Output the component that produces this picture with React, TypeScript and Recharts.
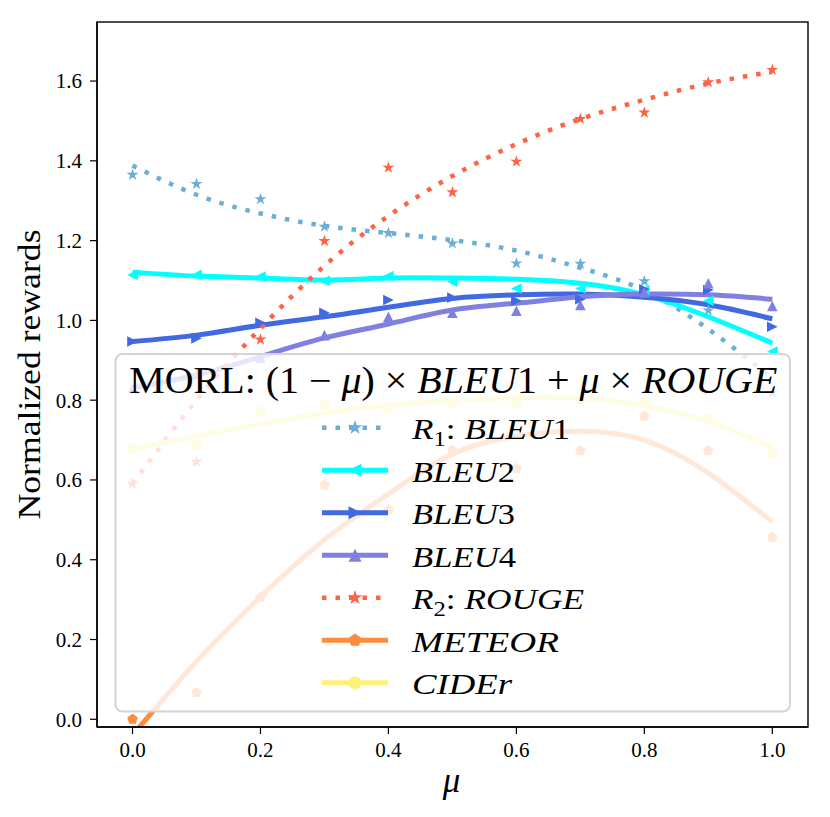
import React from "react";
import { ComposedChart, Line, XAxis, YAxis } from "recharts";

// values
const mu = [0, 0.1, 0.2, 0.3, 0.4, 0.5, 0.6, 0.7, 0.8, 0.9, 1.0];
const xTicks = [0, 0.2, 0.4, 0.6, 0.8, 1.0];
const yTicks = [0, 0.2, 0.4, 0.6, 0.8, 1.0, 1.2, 1.4, 1.6];

const bleu1Raw = [1.365, 1.342, 1.304, 1.235, 1.219, 1.193, 1.143, 1.142, 1.098, 1.025, 0.818];
const bleu1Fit = [1.388, 1.315, 1.268, 1.237, 1.219, 1.201, 1.175, 1.132, 1.075, 0.978, 0.855];
const bleu2Raw = [1.114, 1.114, 1.11, 1.099, 1.111, 1.097, 1.08, 1.08, 1.076, 1.049, 0.922];
const bleu2Fit = [1.121, 1.111, 1.106, 1.101, 1.106, 1.106, 1.103, 1.093, 1.064, 1.009, 0.943];
const bleu3Raw = [0.947, 0.955, 0.994, 1.019, 1.051, 1.057, 1.049, 1.053, 1.078, 1.076, 0.984];
const bleu3Fit = [0.947, 0.963, 0.988, 1.009, 1.033, 1.055, 1.064, 1.066, 1.058, 1.039, 1.004];
const bleu4Raw = [0.83, 0.865, 0.906, 0.963, 1.009, 1.019, 1.024, 1.039, 1.07, 1.093, 1.036];
const bleu4Fit = [0.831, 0.863, 0.909, 0.956, 0.991, 1.026, 1.043, 1.059, 1.066, 1.064, 1.053];
const rougeRaw = [0.59, 0.646, 0.952, 1.199, 1.383, 1.321, 1.398, 1.505, 1.521, 1.597, 1.628];
const rougeFit = [0.59, 0.8, 0.98, 1.137, 1.262, 1.362, 1.442, 1.505, 1.553, 1.594, 1.623];
const meteorRaw = [0.0, 0.067, 0.306, 0.587, 0.525, 0.675, 0.629, 0.673, 0.76, 0.673, 0.456];
const meteorFit = [-0.04, 0.145, 0.307, 0.45, 0.565, 0.665, 0.71, 0.722, 0.7, 0.617, 0.495];
const ciderRaw = [0.678, 0.688, 0.771, 0.788, 0.78, 0.792, 0.792, 0.8, 0.796, 0.755, 0.667];
const ciderFit = [0.678, 0.71, 0.74, 0.768, 0.787, 0.8, 0.806, 0.805, 0.786, 0.747, 0.682];

const FONT = '"Liberation Serif", "DejaVu Serif", serif';

type Shape = "star" | "tleft" | "tright" | "tup" | "pent" | "circle";

const series = [
  { key: "bleu1", color: "#6baed6", shape: "star" as Shape, dotted: true, raw: bleu1Raw, fit: bleu1Fit,
    label: [["R", "i"], ["1", "sub"], [": ", "n"], ["BLEU", "i"], ["1", "n"]], width: 158 },
  { key: "bleu2", color: "#00ffff", shape: "tleft" as Shape, dotted: false, raw: bleu2Raw, fit: bleu2Fit,
    label: [["BLEU", "i"], ["2", "n"]], width: 103 },
  { key: "bleu3", color: "#4169e1", shape: "tright" as Shape, dotted: false, raw: bleu3Raw, fit: bleu3Fit,
    label: [["BLEU", "i"], ["3", "n"]], width: 103 },
  { key: "bleu4", color: "#8080e0", shape: "tup" as Shape, dotted: false, raw: bleu4Raw, fit: bleu4Fit,
    label: [["BLEU", "i"], ["4", "n"]], width: 104 },
  { key: "rouge", color: "#ff6347", shape: "star" as Shape, dotted: true, raw: rougeRaw, fit: rougeFit,
    label: [["R", "i"], ["2", "sub"], [": ", "n"], ["ROUGE", "i"]], width: 172 },
  { key: "meteor", color: "#fd8d3c", shape: "pent" as Shape, dotted: false, raw: meteorRaw, fit: meteorFit,
    label: [["METEOR", "i"]], width: 147 },
  { key: "cider", color: "#fff07a", shape: "circle" as Shape, dotted: false, raw: ciderRaw, fit: ciderFit,
    label: [["CIDEr", "i"]], width: 100 },
];

const rows = mu.map((m, i) => {
  const row: any = { mu: m };
  series.forEach((s) => {
    row[s.key] = s.raw[i];
    row[s.key + "Fit"] = s.fit[i];
  });
  return row;
});

function starPoints(cx: number, cy: number, r: number) {
  const pts: string[] = [];
  for (let k = 0; k < 10; k++) {
    const rad = k % 2 === 0 ? r : r * 0.382;
    const a = -Math.PI / 2 + (k * Math.PI) / 5;
    pts.push(`${cx + rad * Math.cos(a)},${cy + rad * Math.sin(a)}`);
  }
  return pts.join(" ");
}

function Marker({ shape, cx, cy, r, color }: { shape: Shape; cx: number; cy: number; r: number; color: string }) {
  if (cx == null || cy == null) return null;
  switch (shape) {
    case "star":
      return <polygon points={starPoints(cx, cy, r * 1.2)} fill={color} />;
    case "tleft":
      return <polygon points={`${cx - r},${cy} ${cx + r},${cy - r} ${cx + r},${cy + r}`} fill={color} />;
    case "tright":
      return <polygon points={`${cx + r},${cy} ${cx - r},${cy - r} ${cx - r},${cy + r}`} fill={color} />;
    case "tup":
      return <polygon points={`${cx},${cy - r} ${cx - r},${cy + r} ${cx + r},${cy + r}`} fill={color} />;
    case "pent": {
      const pts: string[] = [];
      for (let k = 0; k < 5; k++) {
        const a = -Math.PI / 2 + (k * 2 * Math.PI) / 5;
        pts.push(`${cx + r * 1.05 * Math.cos(a)},${cy + r * 1.05 * Math.sin(a)}`);
      }
      return <polygon points={pts.join(" ")} fill={color} />;
    }
    default:
      return <circle cx={cx} cy={cy} r={r} fill={color} />;
  }
}

function MathText({ parts, x, y, size, width }: { parts: string[][]; x: number; y: number; size: number; width: number }) {
  const out: React.ReactNode[] = [];
  let shifted = false;
  parts.forEach(([t, kind], i) => {
    if (kind === "sub") {
      out.push(
        <tspan key={i} dy={size * 0.22} fontSize={size * 0.7} fontStyle="normal">
          {t}
        </tspan>
      );
      shifted = true;
    } else {
      out.push(
        <tspan key={i} dy={shifted ? -size * 0.22 : 0} fontStyle={kind === "i" ? "italic" : "normal"}>
          {t}
        </tspan>
      );
      shifted = false;
    }
  });
  return (
    <text x={x} y={y} fontSize={size} fontFamily={FONT} fill="#000" textLength={width} lengthAdjust="spacingAndGlyphs">
      {out}
    </text>
  );
}

const titleParts = [
  ["MORL: (1 \u2212 ", "n"],
  ["\u03bc", "i"],
  [") \u00d7 ", "n"],
  ["BLEU", "i"],
  ["1 + ", "n"],
  ["\u03bc", "i"],
  [" \u00d7 ", "n"],
  ["ROUGE", "i"],
];

// plot frame (all four spines) and the semi-transparent legend on top of the chart
function Overlay() {
  const rowY0 = 427.7;
  const step = 42.5;
  return (
    <svg width={830} height={817} style={{ position: "absolute", left: 0, top: 0, pointerEvents: "none" }}>
      <rect x={97} y={22} width={711} height={705} fill="none" stroke="#000" strokeWidth={1.4} />
      <rect x={115.5} y={354} width={674.5} height={357.5} rx={7} fill="#ffffff" fillOpacity={0.8} stroke="#d4d4d4" strokeWidth={2} />
      <MathText parts={titleParts} x={129.3} y={393.3} size={37} width={648} />
      {series.map((s, i) => {
        const cy = rowY0 + i * step;
        return (
          <g key={s.key}>
            <line
              x1={322}
              x2={388}
              y1={cy}
              y2={cy}
              stroke={s.color}
              strokeWidth={s.dotted ? 4.5 : 5}
              strokeDasharray={s.dotted ? "4.5 9" : undefined}
            />
            <Marker shape={s.shape} cx={355} cy={cy} r={6.5} color={s.color} />
            <MathText parts={s.label} x={412} y={cy + 11.7} size={30} width={s.width} />
          </g>
        );
      })}
    </svg>
  );
}

const yLabel = (props: any) => {
  const vb = props.viewBox;
  const cy = vb.y + vb.height / 2;
  return (
    <text
      x={40}
      y={cy}
      transform={`rotate(-90, 40, ${cy})`}
      textAnchor="middle"
      fontSize={32}
      fontFamily={FONT}
      fill="#000"
      textLength={290}
      lengthAdjust="spacingAndGlyphs"
    >
      Normalized rewards
    </text>
  );
};

const xLabel = (props: any) => {
  const vb = props.viewBox;
  return (
    <text x={vb.x + vb.width / 2 - 1} y={792} textAnchor="middle" fontSize={35} fontStyle="italic" fontFamily={FONT} fill="#000">
      {"\u03bc"}
    </text>
  );
};

const tickStyle = { fill: "#000", fontSize: 21, fontFamily: FONT };

export default function App() {
  return (
    <div style={{ position: "absolute", left: 0, top: 0, width: 830, height: 817, background: "#fff" }}>
      <ComposedChart width={830} height={817} data={rows} margin={{ top: 22, right: 22, bottom: 0, left: 0 }}>
        <XAxis
          dataKey="mu"
          type="number"
          domain={[-0.0555, 1.0558]}
          allowDataOverflow
          ticks={xTicks}
          tickFormatter={(v: number) => v.toFixed(1)}
          tick={tickStyle}
          tickSize={7}
          tickMargin={8}
          height={90}
          stroke="#000"
          axisLine={{ stroke: "#000", strokeWidth: 1.4 }}
          tickLine={{ stroke: "#000", strokeWidth: 1.2 }}
          label={xLabel}
        />
        <YAxis
          type="number"
          domain={[-0.0193, 1.748]}
          allowDataOverflow
          ticks={yTicks}
          tickFormatter={(v: number) => v.toFixed(1)}
          tick={tickStyle}
          tickSize={7}
          tickMargin={8}
          width={97}
          stroke="#000"
          axisLine={{ stroke: "#000", strokeWidth: 1.4 }}
          tickLine={{ stroke: "#000", strokeWidth: 1.2 }}
          label={yLabel}
        />
        {series.flatMap((s) => [
          <Line
            key={s.key + "Fit"}
            dataKey={s.key + "Fit"}
            type="natural"
            stroke={s.color}
            strokeWidth={s.dotted ? 4.5 : 5}
            strokeDasharray={s.dotted ? "4.5 9" : undefined}
            dot={false}
            activeDot={false}
            isAnimationActive={false}
          />,
          <Line
            key={s.key}
            dataKey={s.key}
            stroke="none"
            strokeWidth={0}
            activeDot={false}
            isAnimationActive={false}
            dot={(p: any) => (
              <Marker key={`${s.key}-${p.index}`} shape={s.shape} cx={p.cx} cy={p.cy} r={5.3} color={s.color} />
            )}
          />,
        ])}
      </ComposedChart>
      <Overlay />
    </div>
  );
}
